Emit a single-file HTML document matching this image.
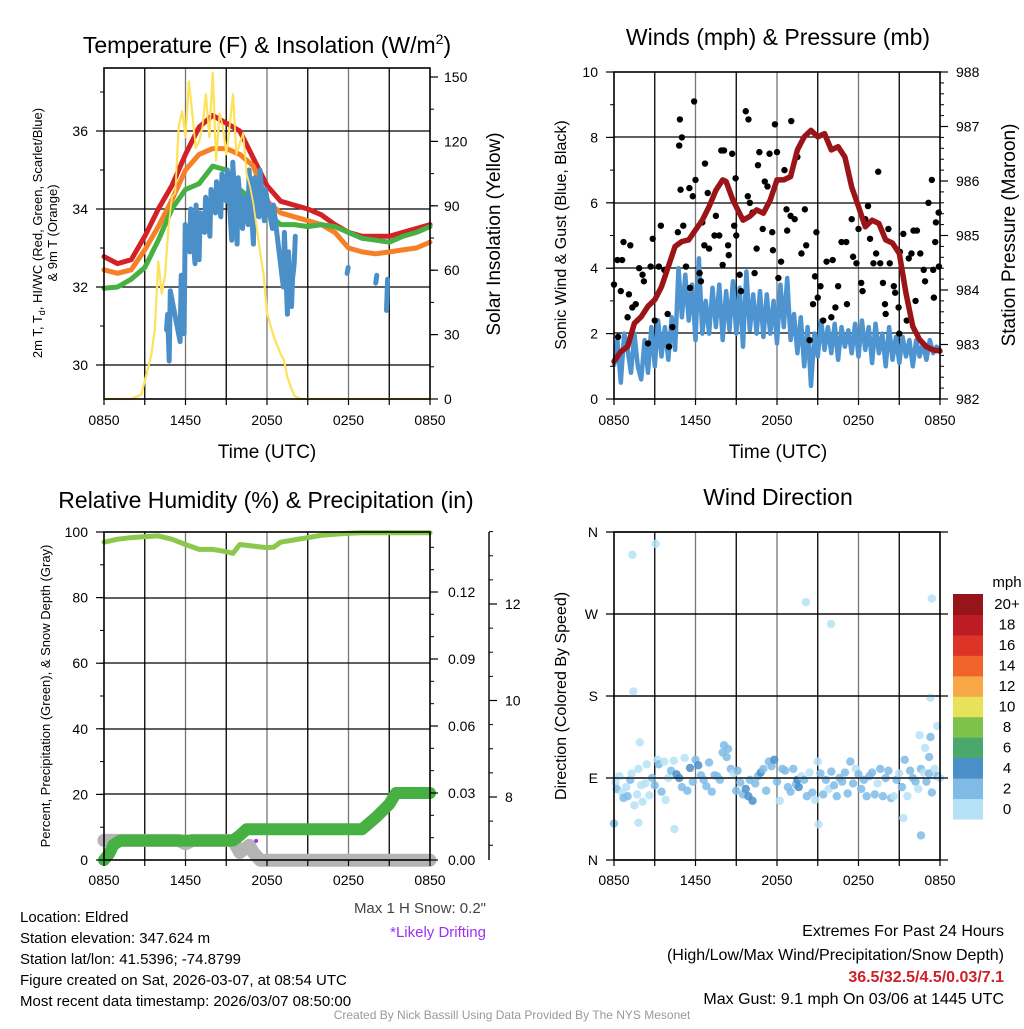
<!DOCTYPE html>
<html><head><meta charset="utf-8">
<style>
html,body{margin:0;padding:0;background:#fff;}
svg text{font-family:"Liberation Sans",Arial,sans-serif;fill:#000;}
</style></head>
<body>
<svg id="chart" xmlns="http://www.w3.org/2000/svg" width="1024" height="1024" viewBox="0 0 1024 1024">
<rect x="0" y="0" width="1024" height="1024" fill="#fff"/>
<g id="layer"></g>
<text x="267" y="53" font-size="23" text-anchor="middle">Temperature (F) &amp; Insolation (W/m<tspan font-size="14" dy="-9">2</tspan><tspan dy="9">)</tspan></text>
<text x="778" y="45" font-size="23" text-anchor="middle">Winds (mph) &amp; Pressure (mb)</text>
<text x="266" y="508" font-size="23" text-anchor="middle">Relative Humidity (%) &amp; Precipitation (in)</text>
<text x="778" y="505" font-size="23" text-anchor="middle">Wind Direction</text>
<text x="267" y="458" font-size="19" text-anchor="middle">Time (UTC)</text>
<text x="778" y="458" font-size="19" text-anchor="middle">Time (UTC)</text>
<text transform="translate(42,233) rotate(-90)" font-size="13" text-anchor="middle">2m T, T<tspan font-size="9" dy="3">d</tspan><tspan dy="-3">, HI/WC (Red, Green, Scarlet/Blue)</tspan></text>
<text transform="translate(57,233) rotate(-90)" font-size="13" text-anchor="middle">&amp; 9m T (Orange)</text>
<text transform="translate(500,234) rotate(-90)" font-size="19" text-anchor="middle">Solar Insolation (Yellow)</text>
<text transform="translate(566,235) rotate(-90)" font-size="16" text-anchor="middle">Sonic Wind &amp; Gust (Blue, Black)</text>
<text transform="translate(1015,235) rotate(-90)" font-size="19" text-anchor="middle">Station Pressure (Maroon)</text>
<text transform="translate(50,696) rotate(-90)" font-size="13" text-anchor="middle">Percent, Precipitation (Green), &amp; Snow Depth (Gray)</text>
<text transform="translate(566,696) rotate(-90)" font-size="16" text-anchor="middle">Direction (Colored By Speed)</text>
<text x="486" y="913" font-size="15" text-anchor="end" style="fill:#444">Max 1 H Snow: 0.2"</text>
<text x="486" y="937" font-size="15" text-anchor="end" style="fill:#a030f0">*Likely Drifting</text>
<g font-size="15">
<text x="20" y="922">Location: Eldred</text>
<text x="20" y="943">Station elevation: 347.624 m</text>
<text x="20" y="964">Station lat/lon: 41.5396; -74.8799</text>
<text x="20" y="985">Figure created on Sat, 2026-03-07, at 08:54 UTC</text>
<text x="20" y="1006">Most recent data timestamp: 2026/03/07 08:50:00</text>
</g>
<g font-size="16" text-anchor="end">
<text x="1004" y="936">Extremes For Past 24 Hours</text>
<text x="1004" y="960">(High/Low/Max Wind/Precipitation/Snow Depth)</text>
<text x="1004" y="982" font-weight="bold" style="fill:#cc2229">36.5/32.5/4.5/0.03/7.1</text>
<text x="1004" y="1004">Max Gust: 9.1 mph On 03/06 at 1445 UTC</text>
</g>
<text x="512" y="1019" font-size="12" text-anchor="middle" style="fill:#999">Created By Nick Bassill Using Data Provided By The NYS Mesonet</text>
</svg>
<script>
const timeTickLabels = ["0850","1450","2050","0250","0850"];
const hours = [0,1,2,3,4,5,6,7,8,9,10,11,12,13,14,15,16,17,18,19,20,21,22,23,24];
const temp2m = [32.78,32.6,32.7,33.3,34.0,34.6,35.4,36.1,36.4,36.2,36.0,35.3,34.6,34.2,34.1,34.0,33.85,33.6,33.4,33.3,33.3,33.3,33.4,33.5,33.6];
const temp9m = [32.44,32.35,32.44,32.95,33.55,34.23,35.0,35.4,35.55,35.55,35.4,35.1,34.2,33.9,33.8,33.7,33.6,33.4,33.0,32.9,32.85,32.9,32.95,33.0,33.15];
const dewpoint = [31.97,32.0,32.2,32.5,33.2,34.0,34.5,34.65,35.1,35.0,34.5,34.2,33.9,33.6,33.6,33.55,33.6,33.55,33.4,33.25,33.2,33.15,33.3,33.4,33.55];
const hiwcHours = [4.6,4.8,5.6,5.9,6.3,6.7,7.0,7.4,7.8,8.2,8.6,9.0,9.4,9.8,10.2,10.6,11.0,11.4,11.8,12.4,13.2,13.5,13.8,14.0,null,17.9,null,20.0,null,20.8];
const hiwcLow = [30.9,30.1,30.6,30.8,32.9,32.6,32.7,33.4,33.3,33.9,33.8,34.2,33.2,33.1,33.5,33.6,33.1,33.8,33.7,33.5,32.0,31.3,31.5,32.6,null,32.35,null,32.1,null,31.4];
const hiwcHigh = [31.3,31.9,32.3,33.6,34.0,34.1,33.9,34.3,34.5,34.7,34.9,35.0,35.2,34.8,34.3,35.0,34.8,35.0,34.5,34.1,33.4,32.9,32.2,33.3,null,32.5,null,32.3,null,32.2];
const solarHours = [0,2,2.75,3,3.5,3.75,4,4.25,4.5,4.75,5,5.25,5.5,5.75,6,6.25,6.5,6.75,7,7.25,7.5,7.75,8,8.25,8.5,8.75,9,9.25,9.5,9.75,10,10.25,10.5,10.75,11,11.5,11.75,12,12.5,13,13.25,13.5,14,14.5,24];
const solarValues = [0,0,2,8.5,21,33,64,49,58,80,94,96,127,134,122,148,133,117,120,127,142,122,152,111,133,127,114,127,142,114,119,124,105,99,91,68,58,40,29,21,18,10,1.5,0,0];
const pressHours = [0,0.5,1,1.5,2,2.5,3,3.5,4,4.5,5,5.5,6,6.5,7,7.5,8,8.25,8.75,9.5,10,10.5,11,11.5,12,12.5,13,13.5,14,14.5,15,15.5,16,16.5,17,17.5,18,18.5,19,19.5,20,20.5,21,21.5,22,22.5,23,23.5,24];
const pressValues = [982.69,982.87,982.96,983.39,983.51,983.7,983.82,984.06,984.43,984.8,984.89,984.92,985.1,985.28,985.53,985.83,986.02,985.99,985.65,985.28,985.35,985.47,985.41,985.65,986.02,986.02,986.08,986.57,986.81,986.93,986.81,986.87,986.57,986.63,986.44,985.89,985.53,985.16,985.28,985.22,984.92,984.86,984.67,983.94,983.33,983.09,982.96,982.9,982.88];
const windValues = [1.0,1.8,0.5,2.0,1.5,0.8,2.0,1.0,0.6,1.8,0.8,2.2,1.0,2.4,1.3,2.2,1.2,2.5,1.5,4.0,2.5,3.8,2.4,3.5,1.8,4.3,2.0,3.0,2.0,3.4,2.2,3.5,1.8,3.3,2.1,3.6,2.0,3.4,1.6,3.9,2.1,3.2,2.0,3.3,1.9,3.2,2.0,3.0,1.7,3.5,2.2,3.7,1.8,2.6,1.4,2.5,1.0,2.2,0.4,2.0,1.3,2.4,1.5,2.2,1.4,2.3,1.2,2.2,1.6,2.1,1.4,2.3,1.3,2.4,1.5,2.2,1.1,2.3,1.4,2.0,1.0,2.2,1.2,1.9,1.1,1.9,1.3,1.8,1.0,1.8,1.3,1.7,1.2,1.8,1.4,1.6,1.5];
const gustHours = [0,0.25,0.6,0.7,1.2,0.5,1.0,1.1,1.35,1.85,2.1,2.2,2.5,2.7,2.85,3.3,3.45,3.7,3.95,4.05,4.3,4.7,4.8,4.85,5.0,4.9,5.1,5.3,5.55,5.8,5.9,6.0,6.3,6.4,6.5,6.65,6.7,6.9,7.4,7.5,7.75,7.9,8.1,8.0,8.4,8.45,8.7,8.85,8.95,9.25,9.35,9.7,9.9,9.85,10.2,10.35,10.5,10.6,10.7,10.95,11.1,11.3,11.45,11.65,11.7,11.85,12.0,12.1,12.55,12.7,12.75,13.0,13.05,13.3,13.5,13.8,14.05,14.15,14.4,14.65,14.8,14.9,15.2,15.4,15.65,16.1,16.3,16.5,16.75,17.1,17.15,17.5,17.6,17.85,18.0,18.2,18.5,18.7,18.85,19.1,19.3,19.45,19.6,19.8,19.95,20.2,20.3,20.6,20.7,20.95,21.05,21.3,21.55,21.7,21.9,22.05,22.3,22.55,22.8,22.9,23.15,23.4,23.5,23.65,23.7,23.9,23.92,23.55,0.3,1.6,3.0,5.6,7.0,9.0,10.0,12.3,15.0,16.0,18.3,20.0,21.0,22.2];
const gustValues = [3.5,4.25,4.25,4.8,4.7,3.3,2.5,3.2,2.8,4.0,3.8,3.6,1.7,4.05,4.9,4.05,5.3,3.95,2.6,1.6,2.2,5.1,7.75,8.55,8.0,6.4,5.3,4.05,6.45,6.2,9.1,6.7,3.85,3.6,5.4,4.7,7.2,6.3,5.0,5.6,5.0,7.6,7.6,4.1,4.7,4.4,7.5,5.3,6.75,3.8,3.3,8.8,8.55,6.2,5.7,3.85,4.6,7.15,7.55,5.2,6.65,6.5,7.5,5.1,4.55,8.4,7.55,3.7,7.0,5.8,5.15,5.6,8.5,5.5,7.4,4.45,5.8,4.7,1.8,2.9,3.75,5.1,3.45,2.4,4.2,4.25,2.8,3.45,4.8,4.8,2.9,5.5,4.35,4.15,5.2,3.55,5.5,5.9,4.9,4.15,4.45,6.95,4.15,3.55,2.9,5.2,4.15,3.45,3.25,2.8,4.5,5.05,2.4,4.3,4.45,5.15,5.15,4.45,3.95,3.6,6.0,6.7,3.95,4.8,5.4,5.7,4.05,3.1,1.9,2.9,2.4,3.4,4.6,5.0,6.0,4.2,3.1,2.5,3.3,2.6,2.0,3.0];
const rhHours = [0,1,2,3,4,5,6,7,8,9,9.5,10,11,12,12.5,13,14,15,16,17,18,19,20,21,22,23,24];
const rhValues = [96.9,97.8,98.3,98.6,98.8,97.8,96.2,94.7,94.7,94.0,93.5,96.2,95.7,95.2,95.4,96.9,97.6,98.3,99.0,99.3,99.6,99.8,99.8,99.8,99.8,99.8,99.8];
const precipHours = [0,0.4,0.7,1.2,9.5,10,10.5,19,20,21,21.5,24];
const precipValues = [0,0.003,0.0068,0.0087,0.0087,0.011,0.0138,0.0138,0.019,0.025,0.03,0.03];
const snowHours = [0,5.5,6,6.5,9.5,10,10.7,11,11.5,24];
const snowValues = [7.1,7.1,7.03,7.1,7.1,6.85,7.0,6.85,6.69,6.69];
const driftHours = [11.2];
const driftValues = [7.09];
const dirHours = [1.35,3.06,1.42,14.13,15.97,23.4,23.3,23.8,22.5,23.3,22.9,23.2,1.9,0,1.8,4.45,15.06,22.6,21.3,0.1,0.2,0.4,0.6,0.7,0.9,1.0,1.2,1.3,1.5,1.7,1.8,2.0,2.1,2.3,2.4,2.6,2.8,3.0,3.2,3.3,3.5,3.7,3.8,4.0,4.2,4.4,4.6,4.8,5.0,5.2,5.4,5.6,5.8,6.0,6.2,6.4,6.6,6.8,7.0,7.2,7.4,7.6,7.8,8.0,8.1,8.3,8.4,8.6,8.8,9.0,9.1,9.3,9.5,9.7,9.9,10.0,10.2,10.4,10.6,10.8,11.0,11.2,11.4,11.6,11.8,12.0,12.2,12.4,12.6,12.8,13.0,13.2,13.4,13.5,13.6,13.8,14.0,14.2,14.4,14.6,14.8,15.0,15.2,15.4,15.6,15.8,16.0,16.2,16.4,16.6,16.8,17.0,17.2,17.4,17.6,17.8,18.0,18.2,18.4,18.6,18.8,19.0,19.2,19.4,19.6,19.8,20.0,20.2,20.4,20.6,20.8,21.0,21.2,21.4,21.6,21.8,22.0,22.2,22.4,22.6,22.8,23.0,23.2,23.4,23.6,23.8,24.0];
const dirValues = [335,347,185,283,259,287,178,147,137,135,123,113,129,40,41,34,39,27,46,85,78,92,74,68,80,70,88,95,60,72,100,82,64,84,105,71,90,82,110,105,75,108,66,90,98,109,94,90,80,112,76,101,86,110,104,93,88,81,107,75,93,92,88,118,126,113,122,100,95,76,98,85,72,78,70,88,65,84,92,96,100,76,108,103,110,86,65,100,98,80,75,100,83,88,80,92,88,70,96,74,66,108,95,72,88,78,97,82,70,90,86,96,73,108,84,100,94,78,88,70,92,96,72,84,100,70,90,98,68,70,88,95,80,110,70,98,90,86,78,100,96,86,95,74,100,92,90];
const dirSpeeds = [1,1,1,1,1,1,1,1,1,3,1,3,1,3,1,1,1,3,1,1,3,1,1,3,1,3,3,1,1,1,1,1,1,1,1,1,3,3,1,3,3,1,1,1,3,1,5,5,3,1,3,5,3,3,5,3,3,3,3,3,3,3,3,3,3,3,3,3,1,3,3,3,3,5,5,3,5,3,3,5,3,3,3,3,5,3,1,3,3,3,3,3,3,5,5,1,3,3,1,3,1,1,3,3,3,1,3,3,3,3,3,3,3,3,3,1,3,3,3,3,3,3,3,1,3,3,3,3,3,1,3,1,3,3,1,3,3,3,1,3,1,3,3,3,1,3,1,3];
const speedBins = ["0","2","4","6","8","10","12","14","16","18","20+"];
const speedColors = ["#b5e2f7","#7fbbe6","#4a8fc8","#4aa86d","#7dc24a","#e8e25a","#f5a843","#f0642c","#dd3427","#bd1c24","#97141a"];

const NS="http://www.w3.org/2000/svg";
const layer=document.getElementById('layer');
function mk(tag,attrs,parent){const e=document.createElementNS(NS,tag);for(const k in attrs)e.setAttribute(k,attrs[k]);(parent||layer).appendChild(e);return e;}
function lin(d0,d1,r0,r1){return v=>r0+(v-d0)*(r1-r0)/(d1-d0);}
function pathFrom(xs,ys,fx,fy){let d="",pen=false;for(let i=0;i<xs.length;i++){if(xs[i]===null||ys[i]===null){pen=false;continue;}d+=(pen?"L":"M")+fx(xs[i]).toFixed(1)+","+fy(ys[i]).toFixed(1);pen=true;}return d;}
function txt(x,y,s,size,anchor,parent){const t=mk('text',{x:x,y:y,'font-size':size,'text-anchor':anchor||'middle'},parent);t.textContent=s;return t;}

function panelFrame(name,L,T,R,B,hgrid,parent){
  const g=mk('g',{},parent);
  
  
  const fx=lin(0,24,L,R);
  for(let h=3;h<24;h+=3){mk('line',{x1:fx(h),x2:fx(h),y1:T,y2:B,stroke:(h%6===0?'#777':'#000'),'stroke-width':1.3},g);}
  hgrid.forEach(y=>mk('line',{x1:L,x2:R,y1:y,y2:y,stroke:'#000','stroke-width':1.3},g));
  return fx;
}
function frameBox(name,L,T,R,B){
  const r=mk('rect',{x:L,y:T,width:R-L,height:B-T,fill:'none',stroke:'#000','stroke-width':1.6});
  
  
}
function timeAxis(name,fx,B,labelY){
  const g=mk('g',{});
  
  
  for(let h=0;h<=24;h+=3){mk('line',{x1:fx(h),x2:fx(h),y1:B,y2:B+6,stroke:'#000','stroke-width':1.2},g);}
  timeTickLabels.forEach((s,i)=>txt(fx(i*6),labelY,s,14,'middle',g));
}
function yAxis(name,x,dir,fy,majors,minors,fmt,labelDx){
  const g=mk('g',{});
  
  
  minors.forEach(v=>mk('line',{x1:x,x2:x+dir*4,y1:fy(v),y2:fy(v),stroke:'#000','stroke-width':1},g));
  majors.forEach(v=>{mk('line',{x1:x,x2:x+dir*8,y1:fy(v),y2:fy(v),stroke:'#000','stroke-width':1.2},g);
    txt(x+dir*labelDx,fy(v)+5,fmt(v),14,dir<0?'end':'start',g);});
}
function range(a,b,s){const r=[];for(let v=a;v<=b+1e-9;v+=s)r.push(+v.toFixed(4));return r;}

(function(){
  const L=104,T=68,R=430,B=399;
  const fyT=lin(30,36,365,131);
  const fyS=lin(0,150,399,77);
  const fx=panelFrame('temperature',L,T,R,B,[131,209,287,365]);
  const ps=mk('path',{d:pathFrom(solarHours,solarValues,fx,fyS),fill:'none',stroke:'#fde25a','stroke-width':2.2,'stroke-linejoin':'round'});
  
  
  const series=[[temp2m,'#d42027','temperature-2m-line'],[temp9m,'#f58028','temperature-9m-line'],[dewpoint,'#46b043','dewpoint-line']];
  series.forEach(s=>{const p=mk('path',{d:pathFrom(hours,s[0],fx,fyT),fill:'none',stroke:s[1],'stroke-width':5,'stroke-linejoin':'round','stroke-linecap':'round'});
    
    });
  const zx=[],zy=[];
  for(let i=0;i<hiwcHours.length;i++){if(hiwcHours[i]===null){zx.push(null);zy.push(null);continue;}
    zx.push(hiwcHours[i]);zy.push(hiwcLow[i]);zx.push(hiwcHours[i]+0.08);zy.push(hiwcHigh[i]);}
  const pb=mk('path',{d:pathFrom(zx,zy,fx,fyT),fill:'none',stroke:'#4a8fc8','stroke-width':5,'stroke-linejoin':'round','stroke-linecap':'round'});
  
  
  const ps2=mk('path',{d:pathFrom(solarHours,solarValues,fx,fyS),fill:'none',stroke:'#fde25a','stroke-width':1.8,'stroke-linejoin':'round'});
  
  
  frameBox('temperature',L,T,R,B);
  timeAxis('temperature',fx,B,425);
  yAxis('temperature-y-axis',L,-1,fyT,[30,32,34,36],range(30,37,1),v=>String(v),16);
  yAxis('insolation-y-axis',R,1,fyS,[0,30,60,90,120,150],range(0,150,15),v=>String(v),14);
})();

(function(){
  const L=614,T=72,R=940,B=399;
  const fyW=lin(0,10,399,72);
  const fyP=lin(982,988,399,72);
  const fx=panelFrame('winds',L,T,R,B,[137,203,268,333]);
  const wx=windValues.map((v,i)=>i*0.25);
  const pw=mk('path',{d:pathFrom(wx,windValues,fx,fyW),fill:'none',stroke:'#4d94d0','stroke-width':4.5,'stroke-linejoin':'round'});
  
  
  const gg=mk('g',{});
  
  
  gustHours.forEach((h,i)=>{const c=mk('circle',{cx:fx(h),cy:fyW(gustValues[i]),r:3.2,fill:'#000'},gg);
    
    });
  const pp=mk('path',{d:pathFrom(pressHours,pressValues,fx,fyP),fill:'none',stroke:'#9b1518','stroke-width':5.5,'stroke-linejoin':'round','stroke-linecap':'round'});
  
  
  frameBox('winds',L,T,R,B);
  timeAxis('winds',fx,B,425);
  yAxis('wind-y-axis',L,-1,fyW,[0,2,4,6,8,10],range(0,10,1),v=>String(v),16);
  yAxis('pressure-y-axis',R,1,fyP,[982,983,984,985,986,987,988],range(982,988,0.2),v=>String(v),16);
})();

(function(){
  const L=104,T=532,R=430,B=860;
  const fyR=lin(0,100,860,532);
  const fyPr=lin(0,0.03,860,793);
  const fyS=lin(8,12,797,604);
  const fx=panelFrame('humidity',L,T,R,B,[598,663,729,794]);
  const psn=mk('path',{d:pathFrom(snowHours,snowValues,fx,fyS),fill:'none',stroke:'#b4b4b4','stroke-width':13,'stroke-linejoin':'round','stroke-linecap':'round'});
  
  
  const ppr=mk('path',{d:pathFrom(precipHours,precipValues,fx,fyPr),fill:'none',stroke:'#46b043','stroke-width':12,'stroke-linejoin':'round','stroke-linecap':'round'});
  
  
  driftHours.forEach((h,i)=>{const c=mk('circle',{cx:fx(h),cy:fyS(driftValues[i]),r:2,fill:'#a030f0'});
    
    });
  const prh=mk('path',{d:pathFrom(rhHours,rhValues,fx,fyR),fill:'none',stroke:'#8cc84b','stroke-width':5,'stroke-linejoin':'round','stroke-linecap':'round'});
  
  
  frameBox('humidity',L,T,R,B);
  timeAxis('humidity',fx,B,885);
  yAxis('humidity-y-axis',L,-1,fyR,[0,20,40,60,80,100],range(0,100,10),v=>String(v),16);
  yAxis('precip-y-axis',R,1,fyPr,[0,0.03,0.06,0.09,0.12],range(0,0.14,0.01),v=>v.toFixed(2),18);
  const sa=mk('line',{x1:489,x2:489,y1:532,y2:860,stroke:'#000','stroke-width':1.4});
  
  
  yAxis('snow-depth-y-axis',489,1,fyS,[8,10,12],range(7,13.5,0.5),v=>String(v),16);
})();

(function(){
  const L=614,T=532,R=940,B=860;
  const fyD=lin(0,360,860,532);
  const fx=panelFrame('wind-direction',L,T,R,B,[614,696,778]);
  const g=mk('g',{});
  
  
  dirHours.forEach((h,i)=>{const bin=Math.min(10,Math.floor(dirSpeeds[i]/2));
    const c=mk('circle',{cx:fx(h),cy:fyD(dirValues[i]),r:4.2,fill:speedColors[bin],'fill-opacity':0.85},g);
    
    });
  frameBox('wind-direction',L,T,R,B);
  timeAxis('wind-direction',fx,B,885);
  const ya=mk('g',{});
  
  
  ["N","E","S","W","N"].forEach((s,i)=>{const y=fyD(i*90);mk('line',{x1:L-8,x2:R+8,y1:y,y2:y,stroke:'#000','stroke-width':1.2},ya);txt(L-16,y+5,s,14,'end',ya);});
  const cb=mk('g',{});
  
  
  const cbT=594,cbB=819,h=(cbB-cbT)/speedColors.length;
  speedColors.forEach((c,i)=>{const y=cbB-(i+1)*h;mk('rect',{x:953,y:y,width:30,height:h+0.5,fill:c},cb);
    txt(1007,y+h/2+5,speedBins[i],15,'middle',cb);});
  txt(1007,587,'mph',15,'middle',cb);
})();
</script>
</body></html>
